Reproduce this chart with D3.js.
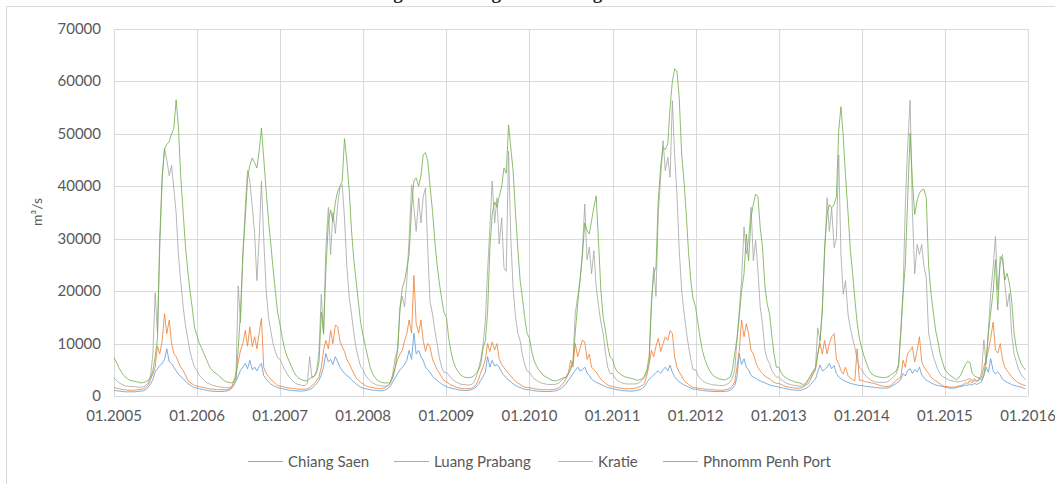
<!DOCTYPE html>
<html>
<head>
<meta charset="utf-8">
<script src="https://cdn.jsdelivr.net/npm/d3@7"></script>
<style>
  body { margin: 0; background: #fff; }
  text { font-family: Lato, "Open Sans", sans-serif; fill: #595959; }
</style>
</head>
<body>
<svg id="chart" width="1055" height="484"></svg>
<script>
// sampling: one value per dekad (1st, 11th, 21st of each month), 2005-2015
const years = [2005, 2006, 2007, 2008, 2009, 2010, 2011, 2012, 2013, 2014, 2015];
const dekadDays = [1, 11, 21];
const xTickLabels = ['01.2005', '01.2006', '01.2007', '01.2008', '01.2009', '01.2010',
  '01.2011', '01.2012', '01.2013', '01.2014', '01.2015', '01.2016'];
const yTicks = [0, 10000, 20000, 30000, 40000, 50000, 60000, 70000];
const seriesNames = ['Chiang Saen', 'Luang Prabang', 'Kratie', 'Phnomm Penh Port'];

// m3/s
const chiangSaen = [
  1100,1000,950,900,850,800, 800,800,800,800,850,900, 950,1000,1200,1700,2300,3200, 4600,5200,5800,6200,7000,9000, 6500,6200,5500,4800,4200,3700, 3300,2800,2400,2100,1800,1600,
  1500,1400,1300,1200,1100,1000, 950,900,900,850,850,850, 900,950,1100,1400,2000,2800, 3800,4900,5500,6200,5200,6800, 5000,5500,4800,5600,6200,3900, 3200,2700,2300,2000,1800,1600,
  1500,1400,1300,1200,1100,1050, 1000,1000,950,950,950,1000, 1100,1200,1500,1900,2400,3000, 4000,5500,8100,6500,7000,6000, 7500,6500,5500,4900,4300,3900, 3600,3100,2700,2300,2000,1700,
  1500,1400,1300,1200,1100,1100, 1050,1000,1000,1050,1200,1500, 2000,2800,3500,4300,5000,5500, 6000,6800,8700,7000,12000,8000, 8700,7500,6800,5500,5000,4500, 3800,3300,3000,2600,2300,2000,
  1800,1600,1500,1400,1300,1200, 1100,1100,1050,1050,1100,1200, 1400,1700,2200,3000,3700,4500, 7500,5500,6800,5700,6000,5500, 4500,3900,3500,3000,2700,2300, 2000,1800,1600,1400,1300,1200,
  1200,1100,1000,950,900,900, 850,850,850,850,900,950, 1050,1200,1500,1900,2400,3000, 3600,4200,4900,5500,4800,5000, 5500,4400,3900,3200,2900,2600, 2400,2200,2000,1800,1600,1500,
  1400,1300,1200,1100,1050,1000, 1000,950,950,950,1000,1100, 1200,1400,1800,2600,3200,3600, 4000,4500,4800,4300,5000,5500, 4800,5900,4500,3700,3100,2700, 2400,2100,1900,1700,1500,1300,
  1300,1200,1100,1050,1000,950, 900,900,850,850,850,850, 850,900,950,1100,1400,2000, 3600,8100,6000,7100,5500,5000, 3900,3600,3400,3100,2900,2700, 2500,2300,2100,2000,1900,1800,
  1700,1600,1500,1400,1300,1200, 1200,1150,1100,1100,1150,1300, 1500,1800,2200,2800,3200,4600, 5900,4800,5000,5500,6200,5200, 5800,4300,3600,3300,3000,2800, 2600,2400,2300,2200,2100,2000,
  2000,1900,1800,1800,1700,1700, 1600,1600,1500,1500,1500,1500, 1600,1800,2100,2400,2700,3200, 4300,3800,4900,5200,4300,5000, 4600,5500,4000,3500,3000,2800, 2500,2300,2100,2000,1900,1800,
  1700,1600,1500,1500,1500,1600, 1700,1800,1900,2100,2000,2300, 2100,2400,2200,2500,2700,3900, 5500,4500,7100,4800,4200,4600, 4000,3200,2900,2600,2400,2200, 2000,1900,1800,1700,1500,1400
];

const luangPrabang = [
  1600,1500,1400,1300,1200,1200, 1100,1100,1100,1100,1200,1200, 1300,1400,1600,2200,3200,4200, 5500,9500,8000,10600,15700,11900, 14500,10000,8100,7500,6500,5500, 4900,4000,3000,2600,2300,2000,
  1900,1800,1700,1600,1500,1400, 1350,1300,1250,1200,1200,1200, 1200,1200,1300,1600,2800,4300, 6500,8700,10000,12500,9500,13200, 9400,11300,9000,12000,14800,5500, 4300,3700,3200,2800,2400,2000,
  1900,1800,1700,1600,1500,1500, 1400,1400,1300,1300,1300,1300, 1400,1600,2000,2400,3000,3600, 5500,8700,10600,9000,12500,10000, 13500,13200,10500,9400,8500,7000, 6200,5200,4300,3500,3000,2600,
  2300,2000,1800,1700,1600,1500, 1500,1400,1400,1500,1700,2000, 2800,4000,5500,7000,8000,8700, 10500,11900,14500,12000,23000,13800, 12000,14500,10600,8500,10000,9400, 7000,6000,5000,4400,3600,3000,
  2700,2400,2100,1900,1700,1600, 1500,1400,1400,1400,1400,1500, 1700,2200,3000,4500,5500,7000, 10000,8500,10300,8800,10000,7000, 6000,5400,4800,4300,3800,3300, 2800,2500,2200,1900,1700,1600,
  1600,1500,1400,1300,1300,1200, 1200,1200,1200,1200,1200,1300, 1400,1600,2000,2600,3300,4300, 6800,5500,10000,7500,9000,10600, 10300,7000,8000,5500,5000,4600, 3800,3200,2800,2400,2100,1900,
  1800,1700,1600,1500,1500,1400, 1400,1400,1400,1400,1500,1600, 1800,2000,2400,4000,6000,8700, 7500,9500,11000,8500,10000,11300, 10600,12500,11900,7500,5500,4600, 3800,3000,2600,2200,1900,1600,
  1600,1500,1400,1400,1300,1300, 1200,1200,1200,1100,1100,1100, 1100,1200,1300,1500,1900,2700, 5500,8700,14500,11300,13800,11900, 8700,8000,6500,5500,4800,4300, 3800,3500,3300,2900,2600,2400,
  2400,2200,2000,1800,1700,1600, 1600,1500,1500,1500,1600,1800, 2100,2400,3200,4200,4900,8100, 10000,8000,10600,8000,10000,11300, 11900,7000,6200,4800,4200,5500, 3900,3400,3100,2900,9000,3000,
  3000,2800,2700,2600,2500,2400, 2300,2200,2000,1900,1800,1800, 1900,2100,2500,3000,3300,3600, 6800,5500,8100,8700,9400,6500, 8700,11300,6500,5500,4900,4300, 3600,3200,2900,2600,2300,2000,
  1800,1800,1700,1700,1700,1800, 1900,2000,2100,2600,2300,3000, 2500,3300,2800,3400,3600,5500, 7000,8700,11000,14100,8700,8200, 10000,7000,5500,4800,4300,3700, 3200,2800,2500,2300,2100,2000
];

const kratie = [
  3500,3000,2600,2300,2100,1900, 1900,1800,1800,1800,1700,1700, 1700,1800,2000,2500,4000,8000, 19700,12000,28000,42000,47300,45000, 42000,44000,39500,35000,27000,22000, 17000,13500,11000,8500,6800,5500,
  4800,4000,3500,3000,2600,2400, 2200,2000,1900,1800,1700,1700, 1600,1600,1600,1700,2000,3500, 21000,14000,26000,36000,43000,41000, 36000,31000,22000,30000,41000,30000, 20000,15000,12500,10000,8500,7300,
  7000,6000,5000,4200,3600,3100, 2700,2400,2200,2100,2000,2000, 2500,7500,3500,3800,5000,8500, 19400,11700,28000,36000,27000,35000, 31000,36500,39700,40300,34000,25000, 18700,15600,12000,9200,7200,5600,
  5000,4000,3400,2900,2500,2300, 2100,2000,1900,1900,1900,2000, 2600,4500,7300,9000,16800,19000, 17000,22000,30000,40300,36000,31400, 37800,33000,38000,39700,28000,18000, 15600,12500,10000,7300,5500,4500,
  4500,4000,3500,3000,2700,2500, 2300,2200,2200,2100,2100,2200, 2500,3500,5000,7000,9800,14300, 24000,32000,41000,33000,37800,29000, 34000,24400,23800,46700,30000,20600, 14900,12000,10500,7900,6000,4800,
  4500,3800,3300,3000,2700,2500, 2400,2300,2200,2200,2200,2200, 2300,2500,3000,3300,3600,4500, 5500,6200,15700,19000,22000,27000, 36600,26000,28400,23300,27700,21000, 17000,14000,11900,8100,5500,4300,
  4300,3500,3000,2700,2500,2400, 2300,2300,2300,2300,2300,2400, 2600,3000,3500,4500,6500,17000, 24600,19000,34700,42000,48700,43000, 45500,41700,56300,46000,38500,28000, 20000,16000,12500,9500,7000,5000,
  5000,4000,3300,2900,2600,2400, 2300,2200,2100,2100,2000,2000, 2000,2100,2300,2700,3500,4900, 10600,16300,22000,32200,27100,29700, 36000,25800,29700,24000,17000,13800, 8700,7000,6200,4900,4200,3600,
  3600,3100,2800,2500,2300,2200, 2100,2000,1950,1900,1900,1900, 2300,3000,3500,4500,5400,13000, 10500,16800,27000,37800,31400,35900, 28300,30200,46000,27000,19400,22000, 15600,13000,11000,9200,7000,5500,
  5000,4200,3700,3300,3000,2800, 2700,2600,2600,2600,2600,2700, 2900,3300,3700,4200,5500,13000, 20000,36500,47300,56400,35000,23300, 28900,27000,28900,24700,22500,12000, 9500,7500,6200,5000,4200,3700,
  3500,3200,3000,2900,2800,2700, 2700,2800,2900,3000,3200,3300, 3000,2900,2800,3000,4500,10700, 6000,12600,19600,24700,30400,20200, 25300,27000,21500,17000,19600,12000, 8000,6500,5000,4200,3600,3100
];

const phnomPenhPort = [
  7300,6500,5500,4700,4000,3600, 3300,3000,2900,2800,2700,2600, 2500,2600,2700,3000,3500,4800, 7500,11000,30000,42000,47000,48000, 48500,50000,51000,56500,51500,42000, 35000,28500,24000,20000,16800,13000,
  11500,10000,9200,8000,7000,6000, 5300,4800,4400,4100,3700,3300, 2900,2700,2600,2500,2700,3300, 9000,16000,27000,34000,41500,44000, 45400,44500,43500,46700,51100,45400, 39000,33500,29000,24400,20000,16000,
  13500,11000,9000,7500,6500,5500, 4700,4000,3500,3200,3000,2900, 2900,3300,3600,3800,4500,6500, 16000,12000,24000,33000,35500,33300, 37000,39000,40000,41000,49100,45000, 39000,31500,26000,22000,18000,14000,
  11500,9500,7500,5500,4300,3600, 3100,2800,2600,2500,2500,2500, 2700,3500,5400,9000,16800,20600, 21900,24400,27000,36000,41000,41600, 40000,42000,46000,46400,44800,40000, 35200,29500,25000,21500,18500,16000,
  15000,11000,8500,6500,5400,4700, 4200,3800,3600,3500,3500,3600, 3800,4300,4800,6000,9200,10500, 16000,28300,34600,37000,36000,38000, 40000,43500,42500,51700,47300,43000, 34600,28000,22000,18700,15000,12000,
  11000,8500,6800,5700,5000,4500, 4000,3700,3500,3200,3000,2900, 2900,3100,3300,3500,3600,4200, 5000,6500,12000,17600,22000,26500, 33000,31500,30900,33500,36000,38200, 29000,20000,15000,12500,9500,7500,
  7000,5500,4700,4300,4000,3700, 3600,3500,3400,3300,3100,3000, 3100,3300,3800,5000,7500,18200, 23300,24500,37300,44000,47400,47000, 48100,55100,60000,62400,62000,57000, 46000,41000,34700,27500,22000,18500,
  17000,14000,11000,8500,7000,5800, 5000,4300,3800,3500,3300,3200, 3100,3100,3300,3600,5000,8100, 11000,15000,20000,23300,30900,25800, 34100,36600,38500,38000,32200,28400, 20800,17500,15700,11500,8000,5500,
  5500,4500,3800,3500,3200,3000, 2900,2700,2600,2500,2300,2200, 2600,3200,4000,4800,5400,8000, 10500,16000,28300,34600,36500,35900, 36500,38000,50500,55200,49500,42000, 35000,28000,23500,18500,14000,11000,
  9000,7500,6300,5000,4300,4000, 3800,3700,3600,3500,3500,3600, 3800,4100,4400,4800,6000,11700, 19400,25100,37400,50100,41000,34600, 37400,38700,39300,39400,37800,25000, 19400,16000,12500,10500,8000,6500,
  5000,4500,4000,3700,3400,3100, 3400,4000,5000,6000,6600,6400, 4300,3800,3600,3400,3100,4000, 6900,12000,15800,20000,26000,16400, 26600,26000,22100,23400,21500,18300, 12000,9000,7500,6200,5500,5000
];

const seriesColors = ['#5B9BD5', '#ED7D31', '#A5A5A5', '#70AD47'];

const dates = years.flatMap(y => d3.range(12).flatMap(m => dekadDays.map(d => new Date(y, m, d))));
const parseTick = d3.timeParse('%m.%Y');
const series = [chiangSaen, luangPrabang, kratie, phnomPenhPort];

const margin = { left: 114, right: 1028, top: 29, bottom: 396 };

const svg = d3.select('#chart');

svg.append('rect')
  .attr('width', 1055).attr('height', 484)
  .attr('fill', '#fff');

// chart area border (runs off the right/bottom edge in the reference)
svg.append('rect')
  .attr('x', 6.5).attr('y', 6.5)
  .attr('width', 1100).attr('height', 500)
  .attr('fill', 'none')
  .attr('stroke', '#D9D9D9');

// title, cropped away above the frame in the reference, only descenders show
svg.append('text')
  .attr('x', 330).attr('y', -1.5)
  .style('font-family', '"Liberation Serif", serif')
  .style('font-weight', 'bold')
  .style('font-size', '19px')
  .style('fill', '#262626')
  .text('Discharge data along the Mekong');

const x = d3.scaleTime()
  .domain([parseTick(xTickLabels[0]), parseTick(xTickLabels[xTickLabels.length - 1])])
  .range([margin.left, margin.right]);

const y = d3.scaleLinear()
  .domain([0, 70000])
  .range([margin.bottom, margin.top]);

const grid = svg.append('g');

grid.selectAll('line.h')
  .data(yTicks)
  .enter()
  .append('line')
  .attr('x1', margin.left).attr('x2', margin.right)
  .attr('y1', d => Math.round(y(d)) + 0.5)
  .attr('y2', d => Math.round(y(d)) + 0.5)
  .attr('stroke', '#D9D9D9');

grid.selectAll('line.v')
  .data(xTickLabels)
  .enter()
  .append('line')
  .attr('x1', d => Math.round(x(parseTick(d))) + 0.5)
  .attr('x2', d => Math.round(x(parseTick(d))) + 0.5)
  .attr('y1', margin.top).attr('y2', margin.bottom)
  .attr('stroke', '#D9D9D9');

svg.append('g')
  .selectAll('text')
  .data(yTicks)
  .enter()
  .append('text')
  .attr('x', 101)
  .attr('y', d => y(d) + 5)
  .attr('text-anchor', 'end')
  .style('font-size', '15px')
  .text(d => d);

svg.append('g')
  .selectAll('text')
  .data(xTickLabels)
  .enter()
  .append('text')
  .attr('x', d => x(parseTick(d)))
  .attr('y', 421)
  .attr('text-anchor', 'middle')
  .style('font-size', '15px')
  .text(d => d);

svg.append('text')
  .attr('transform', 'translate(42, 212) rotate(-90)')
  .attr('text-anchor', 'middle')
  .style('font-size', '14px')
  .text('m³/s');

const line = d3.line()
  .x((d, i) => x(dates[i]))
  .y(d => y(d));

svg.append('g')
  .selectAll('path')
  .data(series)
  .enter()
  .append('path')
  .attr('d', d => line(d))
  .attr('fill', 'none')
  .attr('stroke', (d, i) => seriesColors[i])
  .attr('stroke-width', 0.8)
  .attr('stroke-linejoin', 'round');

// legend
const legendX = [248, 394, 558, 663];
const legend = svg.append('g')
  .selectAll('g')
  .data(seriesNames)
  .enter()
  .append('g')
  .attr('transform', (d, i) => `translate(${legendX[i]}, 461)`);

legend.append('line')
  .attr('x1', 0).attr('x2', 35)
  .attr('y1', 0.5).attr('y2', 0.5)
  .attr('stroke', (d, i) => seriesColors[i])
  .attr('stroke-width', 0.8);

legend.append('text')
  .attr('x', 40)
  .attr('y', 5.5)
  .style('font-size', '15px')
  .text(d => d);
</script>
</body>
</html>
